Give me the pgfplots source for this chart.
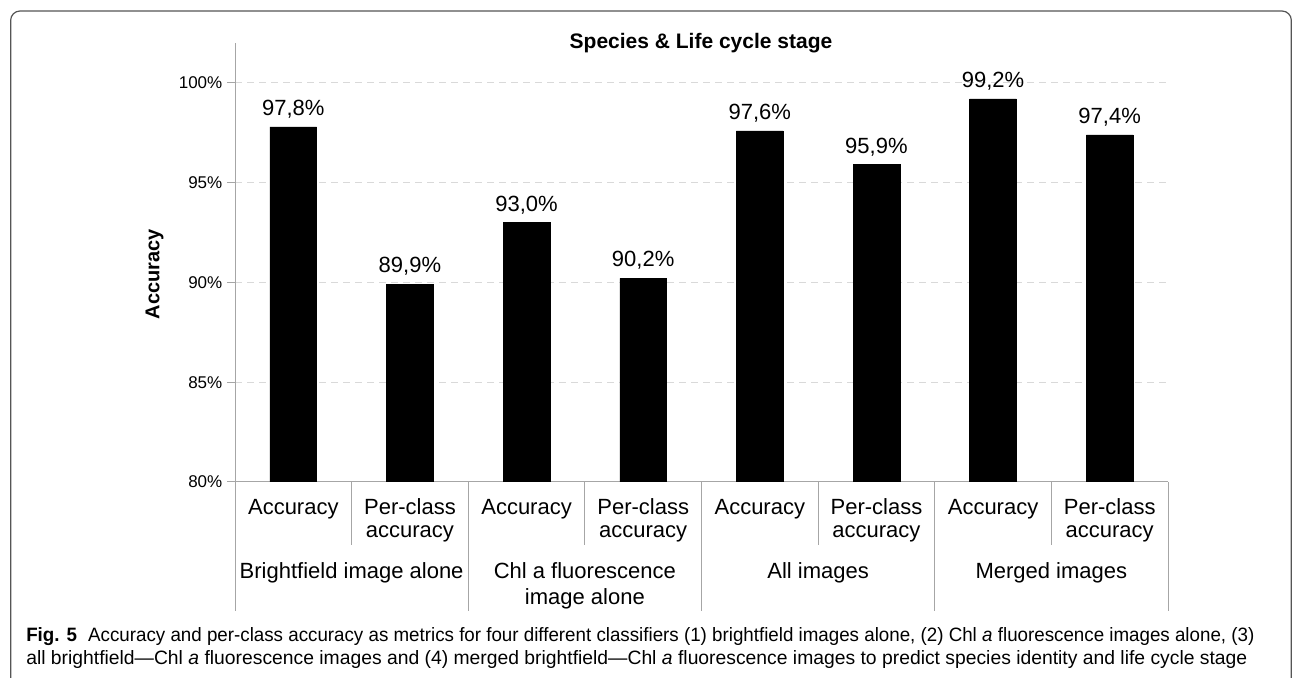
\documentclass[border=0pt]{standalone}
\usepackage{pgfplots}
\pgfplotsset{compat=1.18}
\usepackage{fontspec}
\setmainfont{Liberation Sans}
\usepackage{graphicx}
\definecolor{axisgray}{HTML}{A6A6A6}
\definecolor{gridgray}{HTML}{D9D9D9}
\definecolor{framegray}{HTML}{555555}
\newcommand{\lab}{\fontsize{16.5}{19}\selectfont}
\begin{document}
\begin{tikzpicture}
\useasboundingbox (0,0) rectangle (969.75pt,508.5pt);
\draw[framegray, line width=0.9pt, rounded corners=7pt] (8pt,-2pt) -- (8pt,500.25pt) -- (968.5pt,500.25pt) -- (968.5pt,-2pt);
\begin{axis}[
  at={(176.25pt,147pt)}, anchor=south west,
  scale only axis, width=699.75pt, height=329.25pt,
  ymin=80, ymax=102, xmin=-0.5, xmax=7.5,
  axis x line*=bottom, axis y line*=left,
  axis line style={axisgray, line width=0.75pt, -},
  xtick={0,...,7}, xticklabels={},
  xtick style={draw=none},
  ytick={80,85,90,95,100},
  yticklabels={80\%,85\%,90\%,95\%,100\%},
  yticklabel style={font=\fontsize{12.75}{15}\selectfont},
  ymajorgrids,
  grid style={gridgray, dash pattern=on 5pt off 4pt, line width=0.75pt},
  tick align=outside, major tick length=6pt,
  ytick style={axisgray, line width=0.75pt},
  clip mode=individual,
  ybar, bar width=35pt,
  point meta=explicit symbolic,
  nodes near coords={\pgfplotspointmeta\%},
  every node near coord/.append style={font=\lab, black, yshift=3pt},
]
\addplot[fill=black, draw=black] table[x=x, y=y, meta=lab] {
x y lab
0 97.8 97,8
1 89.9 89,9
2 93.0 93,0
3 90.2 90,2
4 97.6 97,6
5 95.9 95,9
6 99.2 99,2
7 97.4 97,4
};
% inner separators
\draw[axisgray, line width=0.75pt] (axis cs:0.5,80) -- ([yshift=-47.25pt]axis cs:0.5,80);
\draw[axisgray, line width=0.75pt] (axis cs:2.5,80) -- ([yshift=-47.25pt]axis cs:2.5,80);
\draw[axisgray, line width=0.75pt] (axis cs:4.5,80) -- ([yshift=-47.25pt]axis cs:4.5,80);
\draw[axisgray, line width=0.75pt] (axis cs:6.5,80) -- ([yshift=-47.25pt]axis cs:6.5,80);
% group separators
\draw[axisgray, line width=0.75pt] (axis cs:-0.5,80) -- ([yshift=-96.75pt]axis cs:-0.5,80);
\draw[axisgray, line width=0.75pt] (axis cs:1.5,80) -- ([yshift=-96.75pt]axis cs:1.5,80);
\draw[axisgray, line width=0.75pt] (axis cs:3.5,80) -- ([yshift=-96.75pt]axis cs:3.5,80);
\draw[axisgray, line width=0.75pt] (axis cs:5.5,80) -- ([yshift=-96.75pt]axis cs:5.5,80);
\draw[axisgray, line width=0.75pt] (axis cs:7.5,80) -- ([yshift=-96.75pt]axis cs:7.5,80);
% category labels
\node[anchor=base, font=\lab, yshift=-24.75pt] at (axis cs:0,80) {Accuracy};
\node[anchor=base, font=\lab, yshift=-24.75pt] at (axis cs:1,80) {Per-class};
\node[anchor=base, font=\lab, yshift=-42pt] at (axis cs:1,80) {accuracy};
\node[anchor=base, font=\lab, yshift=-24.75pt] at (axis cs:2,80) {Accuracy};
\node[anchor=base, font=\lab, yshift=-24.75pt] at (axis cs:3,80) {Per-class};
\node[anchor=base, font=\lab, yshift=-42pt] at (axis cs:3,80) {accuracy};
\node[anchor=base, font=\lab, yshift=-24.75pt] at (axis cs:4,80) {Accuracy};
\node[anchor=base, font=\lab, yshift=-24.75pt] at (axis cs:5,80) {Per-class};
\node[anchor=base, font=\lab, yshift=-42pt] at (axis cs:5,80) {accuracy};
\node[anchor=base, font=\lab, yshift=-24.75pt] at (axis cs:6,80) {Accuracy};
\node[anchor=base, font=\lab, yshift=-24.75pt] at (axis cs:7,80) {Per-class};
\node[anchor=base, font=\lab, yshift=-42pt] at (axis cs:7,80) {accuracy};
% group labels
\node[anchor=base, font=\lab, yshift=-72.75pt] at (axis cs:0.5,80) {Brightfield image alone};
\node[anchor=base, font=\lab, yshift=-72.75pt] at (axis cs:2.5,80) {Chl a fluorescence};
\node[anchor=base, font=\lab, yshift=-92.25pt] at (axis cs:2.5,80) {image alone};
\node[anchor=base, font=\lab, yshift=-72.75pt] at (axis cs:4.5,80) {All images};
\node[anchor=base, font=\lab, yshift=-72.75pt] at (axis cs:6.5,80) {Merged images};
\end{axis}
\node[font=\bfseries\fontsize{15.75}{18}\selectfont] at (525.75pt,476pt) {Species \& Life cycle stage};
\node[rotate=90, font=\bfseries\fontsize{15}{18}\selectfont] at (115.9pt,303pt) {Accuracy};
\node[anchor=base west, inner sep=0pt] at (19.5pt,27pt) {\resizebox{921pt}{\height}{\fontsize{14.5}{17}\selectfont\textbf{Fig. 5}\hspace{0.6em}Accuracy and per-class accuracy as metrics for four different classifiers (1) brightfield images alone, (2) Chl \textit{a} fluorescence images alone, (3)}};
\node[anchor=base west, inner sep=0pt] at (19.5pt,9.75pt) {\resizebox{915.75pt}{\height}{\fontsize{14.5}{17}\selectfont all brightfield—Chl \textit{a} fluorescence images and (4) merged brightfield—Chl \textit{a} fluorescence images to predict species identity and life cycle stage}};
\end{tikzpicture}
\end{document}
